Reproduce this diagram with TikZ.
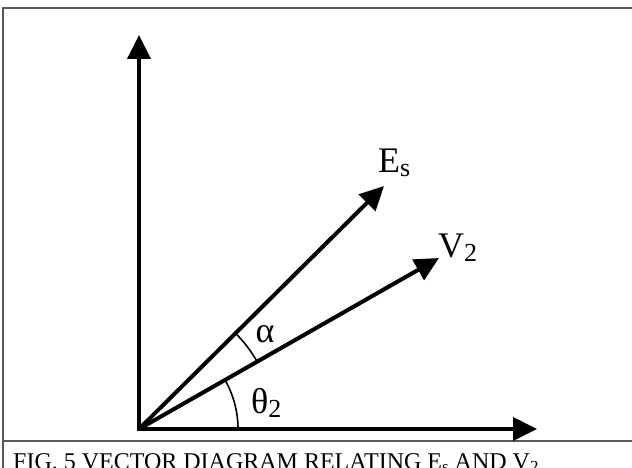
\documentclass[tikz,border=0pt]{standalone}
\usepackage{fontspec}
\setmainfont{Liberation Serif}
\usetikzlibrary{arrows.meta}
\newcommand{\lsub}[1]{\raisebox{-4pt}{\fontsize{26}{26}\selectfont #1}}
\newcommand{\csub}[1]{\raisebox{-3pt}{\fontsize{17}{18}\selectfont #1}}
\begin{document}
\begin{tikzpicture}[x=1pt,y=-1pt,
  vec/.style={line width=4pt,-{Triangle[length=24pt,width=23pt]}},
  frameline/.style={line width=2pt,draw=black!65},
  arcline/.style={line width=1.6pt},
  lbl/.style={inner sep=0pt,font=\fontsize{36}{40}\selectfont},
  captext/.style={inner sep=0pt,font=\fontsize{24}{26}\selectfont}]
\useasboundingbox (0,0) rectangle (632,468);
% frame
\coordinate (TL) at (3,8);
\coordinate (TR) at (632,8);
\coordinate (BL) at (3,468);
\coordinate (DL) at (3,441);
\coordinate (DR) at (632,441);
\draw[frameline] (BL) -- (TL) -- (TR);
\draw[frameline] (DL) -- (DR);
% vectors
\coordinate (O) at (139,429);
\coordinate (O1) at (139,431);
\coordinate (O2) at (137,429);
\coordinate (Ytip) at (139,35);
\coordinate (Xtip) at (537,429);
\coordinate (Etip) at (384,186);
\coordinate (Vtip) at (439,258);
\draw[vec] (O1) -- (Ytip);
\draw[vec] (O2) -- (Xtip);
\draw[vec] (O) -- (Etip);
\draw[vec] (O) -- (Vtip);
% angle arcs
\draw[arcline] ([shift={(0:99)}]O) arc[start angle=0,end angle=-29.7,radius=99];
\draw[arcline] ([shift={(-29.7:136)}]O) arc[start angle=-29.7,end angle=-44.8,radius=136];
% labels
\node[lbl,anchor=base west] (Es) at (378,172) {E\lsub{s}};
\node[lbl,anchor=base west] (V2) at (438,257) {V\lsub{2}};
\node[lbl,anchor=base] (alpha) at (265,342) {α};
\node[lbl,anchor=base west] (theta) at (251,413) {θ\lsub{2}};
\node[captext,anchor=base west] (caption) at (13,469) {FIG. 5 VECTOR DIAGRAM RELATING E\csub{s} AND V\csub{2}};
\end{tikzpicture}
\end{document}
